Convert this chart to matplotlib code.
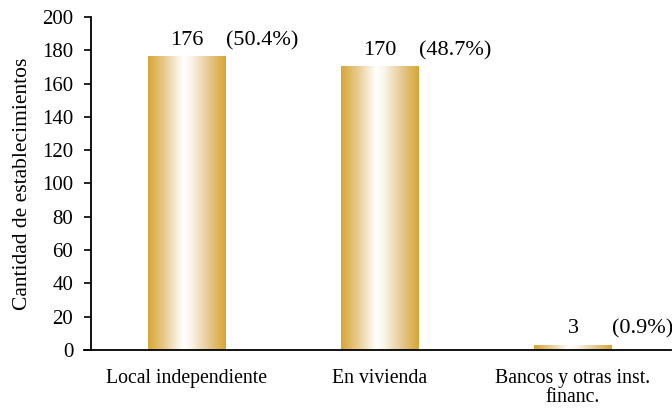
import numpy as np
import matplotlib
matplotlib.use("Agg")
import matplotlib.pyplot as plt
from matplotlib.colors import LinearSegmentedColormap

categories = ["Local independiente", "En vivienda", "Bancos y otras inst.\nfinanc."]
counts = [176, 170, 3]
shares = ["(50.4%)", "(48.7%)", "(0.9%)"]
y_ticks = [0, 20, 40, 60, 80, 100, 120, 140, 160, 180, 200]

plt.rcParams["font.family"] = ["Liberation Serif", "DejaVu Serif"]

GOLD = "#D8A632"
cmap = LinearSegmentedColormap.from_list(
    "goldbar", [(0.0, GOLD), (0.2, "#E6C98A"), (0.45, "#FFFFFF"),
                (0.55, "#FBF6EC"), (0.8, "#E4C589"), (1.0, GOLD)])

# x = 0 sits at 187 px, one category step is 193 px
x_lo, x_hi = -0.535, 2.51
left_px = 187 + x_lo * 193
right_px = 187 + x_hi * 193

fig = plt.figure(figsize=(6.72, 4.09), dpi=100)
ax = fig.add_axes([left_px / 672, 1 - 350 / 409,
                   (right_px - left_px) / 672, 333 / 409])

width = 0.404
xs = np.arange(len(categories))
grad = np.linspace(0, 1, 256).reshape(1, -1)
for x, c in zip(xs, counts):
    ax.imshow(grad, cmap=cmap, aspect="auto",
              extent=[x - width / 2, x + width / 2, 0, c], zorder=2)

for x, c, s in zip(xs, counts, shares):
    ax.text(x, c + 7, str(c), ha="center", va="baseline", fontsize=16)
    ax.text(x + 0.2, c + 7, s, ha="left", va="baseline", fontsize=16)

ax.set_xlim(x_lo, x_hi)
ax.set_ylim(0, 200)
ax.spines["left"].set_position(("data", -0.5))
ax.spines["top"].set_visible(False)
ax.spines["right"].set_visible(False)
ax.spines["left"].set_linewidth(1.3)
ax.spines["bottom"].set_linewidth(1.3)

ax.set_yticks(y_ticks)
ax.tick_params(axis="y", direction="out", length=5, width=1.2, labelsize=15, pad=7.5)
ax.set_xticks(xs)
ax.set_xticklabels(categories, fontsize=14.2, linespacing=1.0)
ax.tick_params(axis="x", length=0, pad=14)
ax.set_ylabel("Cantidad de establecimientos", fontsize=15.5, labelpad=7)

fig.savefig("out.png", dpi=100)
